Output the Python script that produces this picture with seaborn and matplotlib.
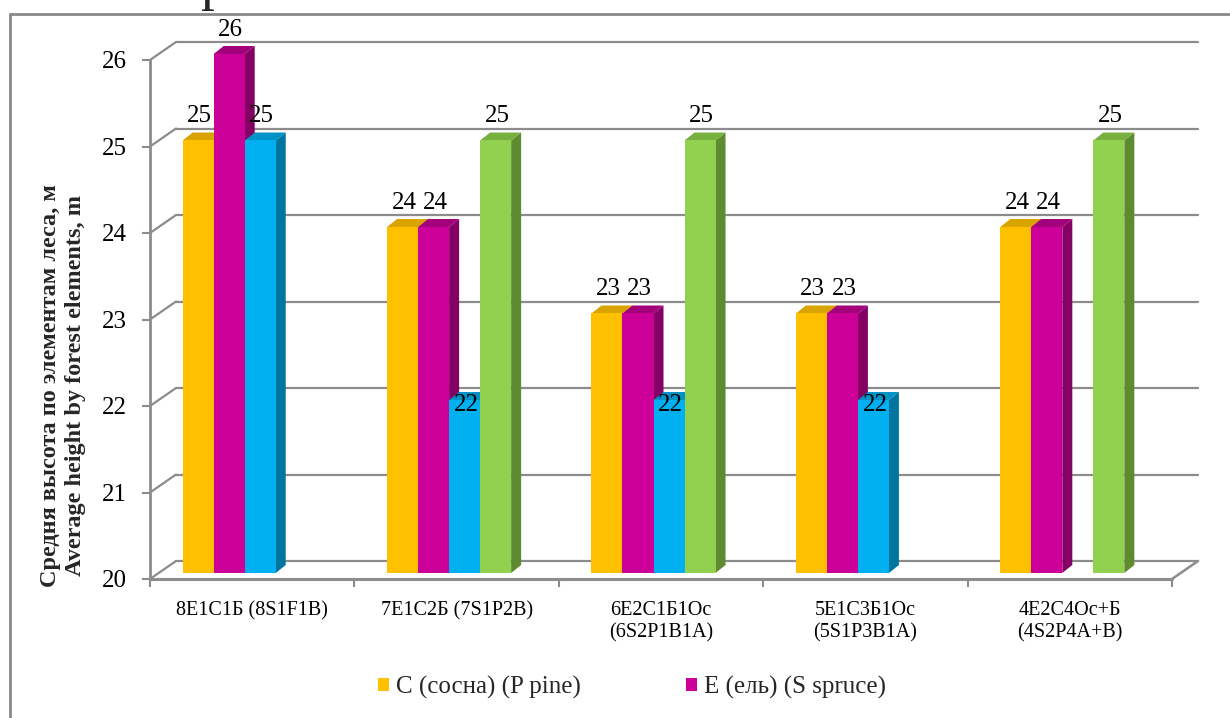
import numpy as np
import pandas as pd
import seaborn as sns
import matplotlib.pyplot as plt
from matplotlib.colors import to_rgba
from matplotlib.patches import Polygon, Patch
from matplotlib.lines import Line2D

# ---- data -------------------------------------------------------------
stands = ["8Е1С1Б (8S1F1B)", "7Е1С2Б (7S1P2B)", "6Е2С1Б1Ос\n(6S2P1B1A)",
          "5Е1С3Б1Ос\n(5S1P3B1A)", "4Е2С4Ос+Б\n(4S2P4A+B)"]
species = ["С (сосна) (P pine)", "Е (ель) (S spruce)",
           "Б (береза) (B birch)", "Ос (осина) (A aspen)"]
pine = [25, 24, 23, 23, 24]
spruce = [26, 24, 23, 23, 24]
birch = [25, 22, 22, 22, np.nan]
aspen = [np.nan, 25, 25, np.nan, 25]
yticks = [20, 21, 22, 23, 24, 25, 26]

front_colors = ["#FFC000", "#CC0099", "#00B0F0", "#92D050"]
side_colors = ["#B38600", "#850064", "#00759F", "#5E8A30"]
top_colors = ["#D9A300", "#A3007C", "#0092C8", "#78B040"]

df = pd.DataFrame({
    "stand": np.repeat(stands, 4),
    "species": species * len(stands),
    "height": np.column_stack([pine, spruce, birch, aspen]).ravel(),
})

sns.set_theme(style="white")
plt.rcParams["font.family"] = ["Liberation Serif", "DejaVu Serif"]

W, H = 1230, 718
fig = plt.figure(figsize=(W / 100, H / 100), dpi=100)
fig.patch.set_facecolor("white")

# front plane of the plot box: x 150..1172 px, y(20)=579 px, y(26)=60 px
x0, x1, yb, yt = 150, 1172, 579, 60
ax = fig.add_axes([x0 / W, (H - yb) / H, (x1 - x0) / W, (yb - yt) / H])
ax.set_xlim(-0.5, 4.5)
ax.set_ylim(20, 26)
ax.set_facecolor("none")
for s in ax.spines.values():
    s.set_visible(False)

ppx = (x1 - x0) / 5.0      # pixels per category
ppy = (yb - yt) / 6.0      # pixels per metre

# depth offsets in data units: back wall, bar depth, bar row set back
wall_dx, wall_dy = 26 / ppx, 18 / ppy
bar_dx, bar_dy = 10 / ppx, 8 / ppy
row_dx, row_dy = -7.5 / ppx, 6 / ppy
GRID = "#8C8C8C"

# back wall gridlines and their links to the front axis
for v in yticks:
    ax.plot([-0.5 + wall_dx, 4.5 + wall_dx], [v + wall_dy, v + wall_dy],
            color=GRID, lw=1.6, zorder=0.5, clip_on=False)
    ax.plot([-0.5, -0.5 + wall_dx], [v, v + wall_dy],
            color=GRID, lw=1.6, zorder=0.6, clip_on=False)
ax.plot([4.5, 4.5 + wall_dx], [20, 20 + wall_dy], color=GRID, lw=1.8,
        zorder=0.6, clip_on=False)
ax.plot([-0.5, -0.5], [20, 26], color=GRID, lw=2.0, zorder=5, clip_on=False)
ax.plot([-0.5, 4.5], [20, 20], color=GRID, lw=2.2, zorder=5, clip_on=False)

# bars
sns.barplot(data=df, x="stand", y="height", hue="species", order=stands,
            hue_order=species, palette=front_colors, saturation=1,
            width=0.607, gap=0, legend=False, ax=ax)

rgba_front = [tuple(np.round(to_rgba(c), 3)) for c in front_colors]
bars = [p for p in ax.patches if np.isfinite(p.get_height()) and p.get_height() > 0]
LABEL_ON_TOP_BELOW = 22.5
for p in bars:
    h_idx = rgba_front.index(tuple(np.round(p.get_facecolor(), 3)))
    v = p.get_height()
    base = 20 + row_dy
    p.set_x(p.get_x() + row_dx)
    p.set_y(base)
    p.set_height(v - 20)
    p.set_clip_on(False)
    p.set_edgecolor("none")
    p.set_linewidth(0)
    z = 2 + h_idx * 0.1
    p.set_zorder(z + 0.02)
    bx0 = p.get_x()
    bx1 = bx0 + p.get_width()
    top_y = base + (v - 20)
    ax.add_patch(Polygon([(bx1, base), (bx1, top_y), (bx1 + bar_dx, top_y + bar_dy),
                          (bx1 + bar_dx, base + bar_dy)], closed=True,
                         facecolor=side_colors[h_idx], edgecolor="none",
                         zorder=z, clip_on=False))
    ax.add_patch(Polygon([(bx0, top_y), (bx1, top_y), (bx1 + bar_dx, top_y + bar_dy),
                          (bx0 + bar_dx, top_y + bar_dy)], closed=True,
                         facecolor=top_colors[h_idx], edgecolor="none",
                         zorder=z + 0.01, clip_on=False))
    cx = (bx0 + bx1) / 2 + 1.5 / ppx
    ly = top_y - 11 / ppy if v < LABEL_ON_TOP_BELOW else top_y + 18 / ppy
    ax.text(cx, ly, f"{v:.0f}", ha="center", va="baseline", fontsize=18,
            color="black", zorder=10, clip_on=False)

# axis ticks and labels
ax.set_yticks(yticks)
ax.set_yticklabels([str(v) for v in yticks], fontsize=18)
ax.tick_params(axis="y", which="major", left=True, length=5.5, width=1.5,
               color=GRID, pad=11, labelcolor="black")
ax.set_xticks(range(len(stands)))
ax.set_xticklabels(stands, fontsize=14.5, linespacing=1.2)
ax.tick_params(axis="x", which="major", length=0, pad=16, labelcolor="black")
ax.set_xticks(np.arange(-0.5, 5.0, 1.0), minor=True)
ax.tick_params(axis="x", which="minor", bottom=True, length=6, width=1.5,
               color=GRID)
ax.set_xlabel("")
ax.set_ylabel("")

fig.text(63 / W, (H - 386) / H,
         "Средня высота по элементам леса, м\nAverage height by forest elements, m",
         rotation=90, ha="center", va="center", multialignment="center",
         fontsize=17.5, fontweight="bold", linespacing=1.25)

# legend
handles = [Patch(facecolor=front_colors[0], edgecolor="none"),
           Patch(facecolor=front_colors[1], edgecolor="none")]
fig.legend(handles, species[:2], loc="center", bbox_to_anchor=(632 / W, (H - 687) / H),
           ncol=2, frameon=False, fontsize=18, handlelength=0.44,
           handleheight=0.44, handletextpad=0.28, columnspacing=4.2,
           borderpad=0, borderaxespad=0)

# outer chart frame and the edge of the heading above it
fig.add_artist(Line2D([10 / W, 1.2], [(H - 14) / H, (H - 14) / H],
                      transform=fig.transFigure, color="#8A8A8A", lw=2))
fig.add_artist(Line2D([10 / W, 10 / W], [-0.2, (H - 14) / H],
                      transform=fig.transFigure, color="#8A8A8A", lw=2))
fig.text(214 / W, (H + 1) / H, "р", fontsize=40, ha="center", va="baseline")

fig.savefig("out.png", dpi=100, facecolor="white")
